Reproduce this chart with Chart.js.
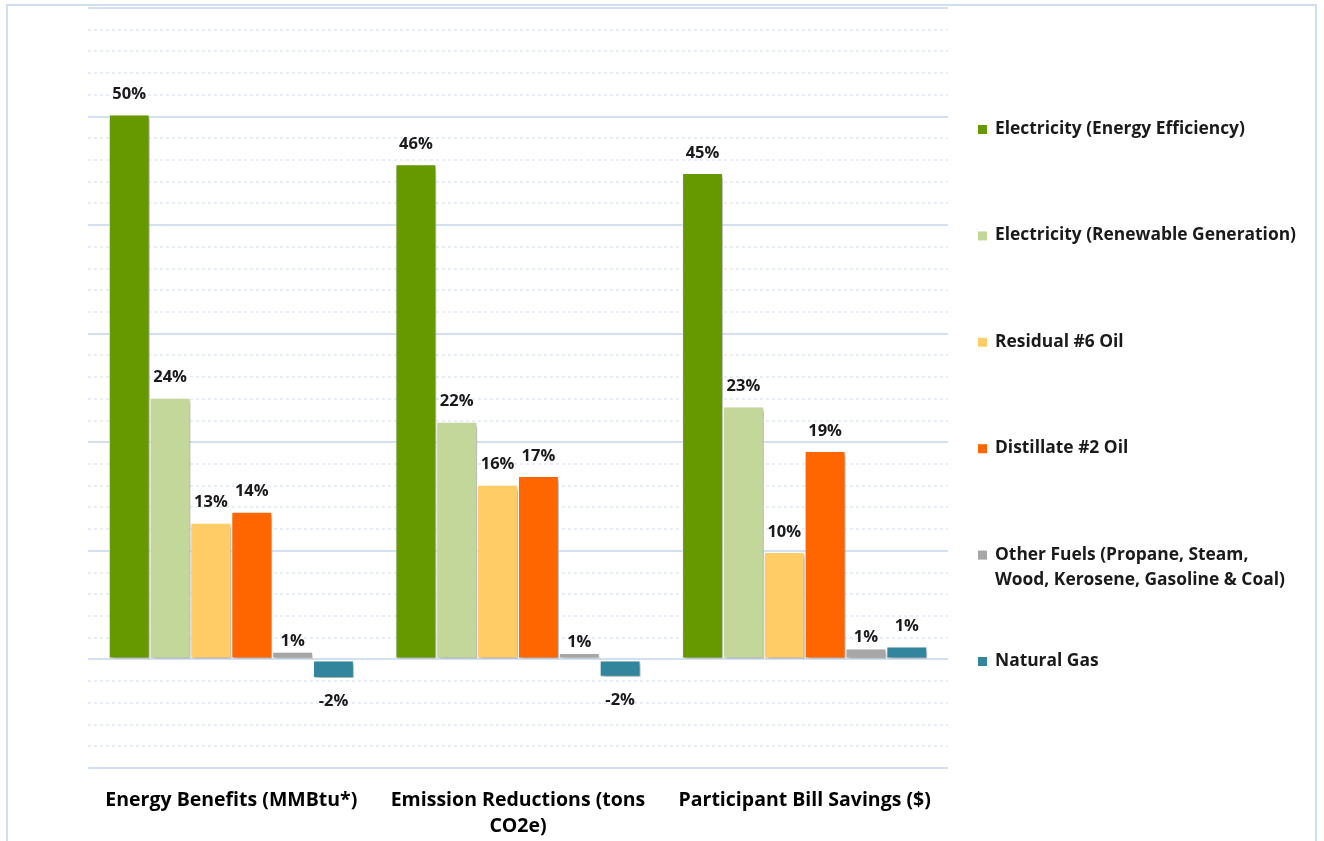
<!DOCTYPE html>
<html>
<head>
<meta charset="utf-8">
<script src="https://cdn.jsdelivr.net/npm/chart.js@4.4.1/dist/chart.umd.min.js"></script>
<style>
  html, body { margin: 0; padding: 0; background: #fff; }
  #wrap { position: relative; width: 1324px; height: 841px; }
  #frame { position: absolute; left: 6px; top: 4px; width: 1311px; height: 850px; border: 2px solid #d0dff0; box-sizing: border-box; }
</style>
</head>
<body>
<div id="wrap">
  <div id="frame"></div>
  <canvas id="grafico" width="1324" height="841"></canvas>
</div>
<script>
const categorias = [
  'Energy Benefits (MMBtu*)',
  ['Emission Reductions (tons', 'CO2e)'],
  'Participant Bill Savings ($)'
];

const seriesNomes = [
  'Electricity (Energy Efficiency)',
  'Electricity (Renewable Generation)',
  'Residual #6 Oil',
  'Distillate #2 Oil',
  ['Other Fuels (Propane, Steam,', 'Wood, Kerosene, Gasoline & Coal)'],
  'Natural Gas'
];

const eletricidadeEE = [50.2, 45.6, 44.8];
const eletricidadeRenovavel = [24.1, 21.9, 23.3];
const oleoResidual = [12.6, 16.1, 9.9];
const oleoDestilado = [13.6, 16.9, 19.2];
const outrosCombustiveis = [0.7, 0.6, 1.0];
const gasNatural = [-1.7, -1.6, 1.2];

const cores = ['#669900', '#c4d79b', '#ffcc66', '#ff6600', '#a6a6a6', '#31859c'];
const valores = [eletricidadeEE, eletricidadeRenovavel, oleoResidual, oleoDestilado, outrosCombustiveis, gasNatural];

const FONTE = '"Open Sans", Lato, sans-serif';

// sombra suave nas barras
const sombraBarras = {
  id: 'sombraBarras',
  beforeDatasetDraw(chart) {
    const ctx = chart.ctx;
    ctx.save();
    ctx.shadowColor = 'rgba(0,0,0,0.35)';
    ctx.shadowBlur = 4;
    ctx.shadowOffsetX = 2;
    ctx.shadowOffsetY = 3;
  },
  afterDatasetDraw(chart) {
    chart.ctx.restore();
  }
};

// rótulos de porcentagem
const rotulos = {
  id: 'rotulos',
  afterDatasetsDraw(chart) {
    const ctx = chart.ctx;
    ctx.save();
    ctx.font = `bold 16.5px ${FONTE}`;
    ctx.fillStyle = '#1a1a1a';
    ctx.textAlign = 'center';
    ctx.textBaseline = 'middle';
    chart.data.datasets.forEach((ds, i) => {
      const meta = chart.getDatasetMeta(i);
      meta.data.forEach((bar, j) => {
        const v = ds.data[j];
        const off = ds.labelOffset || 20;
        const y = v >= 0 ? bar.y - off : bar.y + 23;
        ctx.fillText(Math.round(v) + '%', bar.x, y);
      });
    });
    ctx.restore();
  }
};

// legenda à direita
const legendaDireita = {
  id: 'legendaDireita',
  afterDraw(chart) {
    const ctx = chart.ctx;
    ctx.save();
    ctx.font = `bold 17.4px ${FONTE}`;
    ctx.textBaseline = 'middle';
    chart.data.datasets.forEach((ds, i) => {
      const y = 129 + i * 106.4;
      ctx.fillStyle = ds.backgroundColor;
      ctx.fillRect(978, y - 4, 9, 9);
      ctx.fillStyle = '#1a1a1a';
      const linhas = Array.isArray(ds.label) ? ds.label : [ds.label];
      linhas.forEach((t, k) => ctx.fillText(t, 995, y + k * 25));
    });
    ctx.restore();
  }
};

const datasets = valores.map((data, i) => ({
  label: seriesNomes[i],
  data,
  backgroundColor: cores[i],
  borderColor: '#ffffff',
  borderWidth: 1,
  borderSkipped: false,
  labelOffset: i === 4 ? 11 : 20
}));

new Chart(document.getElementById('grafico').getContext('2d'), {
  type: 'bar',
  data: { labels: categorias, datasets },
  plugins: [sombraBarras, rotulos, legendaDireita],
  options: {
    responsive: false,
    animation: false,
    layout: { padding: { left: 88, right: 376, top: 8, bottom: 0 } },
    datasets: { bar: { barPercentage: 1, categoryPercentage: 0.855 } },
    plugins: { legend: { display: false }, tooltip: { enabled: false } },
    scales: {
      x: {
        grid: { display: false },
        border: { display: false },
        ticks: {
          color: '#000',
          font: { family: FONTE, size: 19.5, weight: 'bold', lineHeight: 1.3 },
          padding: 12,
          maxRotation: 0
        },
        afterFit(axis) { axis.height = 73; }
      },
      y: {
        min: -10,
        max: 60,
        ticks: { display: false, stepSize: 2 },
        grid: {
          drawTicks: false,
          color: ctx => (ctx.tick && ctx.tick.value % 10 === 0) ? '#d3e0f1' : '#e8eef8',
          lineWidth: 2
        },
        border: {
          display: false,
          dash: ctx => (ctx.tick && ctx.tick.value % 10 === 0) ? [] : [3, 3]
        },
        afterFit(axis) { axis.width = 0; }
      }
    }
  }
});
</script>
</body>
</html>
